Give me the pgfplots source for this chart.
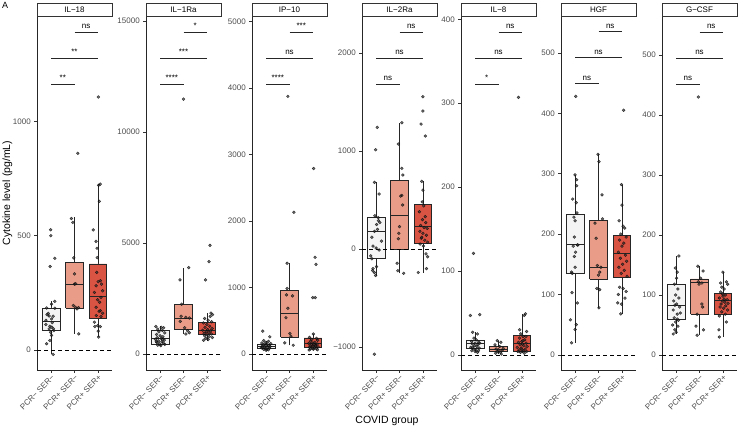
\documentclass[border=0pt]{standalone}
\usepackage{fontspec}
\setmainfont{Liberation Sans}
\usepackage{pgfplots}
\pgfplotsset{compat=1.18}

\definecolor{gA}{HTML}{F4F4F4}
\definecolor{gB}{HTML}{E99C87}
\definecolor{gC}{HTML}{DA5444}
\definecolor{ticktext}{HTML}{4D4D4D}

\newcommand{\smallfont}{\fontsize{8}{9}\selectfont}

\pgfplotsset{
  panel/.style={
    scale only axis, width=75pt, height=354pt, anchor=south west,
    xmin=0.4, xmax=3.6, enlargelimits=false, clip=false,
    scaled y ticks=false,
    axis x line*=bottom, axis y line*=left,
    axis line style={black!85, line width=0.5pt},
    tick align=outside, major tick length=2.75pt,
    tick style={black!80, line width=0.5pt},
    xtick={1,2,3},
    xticklabels={PCR− SER−, PCR+ SER−, PCR+ SER+},
    xticklabel style={rotate=45, anchor=north east, font=\smallfont, text=ticktext, inner sep=1pt},
    yticklabel style={font=\smallfont, text=ticktext},
  },
  pts/.style={only marks, mark=*, mark size=1.45pt,
    mark options={fill=black!80, draw=none, opacity=0.7}},
  zero/.style={black, line width=0.5pt, dash pattern=on 4pt off 3pt},
  bline/.style={black!85, line width=0.5pt},
}

% box: left, centre, right, lower whisker, q1, median, q3, upper whisker, fill
\newcommand{\bx}[9]{%
  \addplot[bline] coordinates {(#2,#4)(#2,#5)};
  \addplot[bline] coordinates {(#2,#7)(#2,#8)};
  \addplot[bline, fill=#9] coordinates {(#1,#5)(#3,#5)(#3,#7)(#1,#7)(#1,#5)};
  \addplot[black!85, line width=1pt] coordinates {(#1,#6)(#3,#6)};}
% bracket: from, to, middle, height, label
\newcommand{\sig}[5]{\draw[black!85, line width=0.5pt] (axis cs:#1,#4) -- (axis cs:#2,#4);
  \node[anchor=base, yshift=3.5pt, inner sep=0pt, font=\smallfont] at (axis cs:#3,#4) {#5};}
\newcommand{\strip}[1]{\draw[black!80, line width=0.6pt, fill=white] (rel axis cs:0,1) rectangle (rel axis cs:1,1.037);
  \node[font=\smallfont] at (rel axis cs:0.5,1.0185) {#1};}

\begin{document}
\begin{tikzpicture}
\useasboundingbox (0,0) rectangle (738pt,427pt);

% IL-18
\begin{axis}[panel, at={(37pt,57pt)}, ymin=-87, ymax=1460,
  ytick={0,500,1000}, yticklabels={0,500,1000}]
\bx{0.625}{1}{1.375}{-19}{87}{126}{184}{213}{gA}
\bx{1.625}{2}{2.375}{71}{184}{288}{384}{583}{gB}
\bx{2.625}{3}{3.375}{57}{138}{235}{377}{725}{gC}
\addplot[zero] coordinates {(0.4,0) (3.6,0)};
\addplot[pts] coordinates {(0.98,526)(0.99,500)(1.16,401)(0.96,365)(1.16,213)(1.02,201)
  (0.81,184)(1.16,183)(0.83,155)(0.92,149)(1.09,148)(1.02,136)(0.78,130)(0.78,112)
  (0.95,104)(1.03,100)(0.92,93)(1.1,93)(0.98,78)(1.02,64)(0.81,28)(1.09,-19)(0.95,42)
  (1.05,120)(0.88,160)(1.12,85)};
\addplot[pts] coordinates {(1.87,575)(1.93,558)(1.97,403)(2.0,333)(2.0,288)(2.04,187)
  (2.17,186)(2.11,180)(2.18,71)(2.14,860)(2.05,290)(1.95,195)};
\addplot[pts] coordinates {(3.02,1106)(3.1,725)(3.03,720)(3.06,650)(2.8,525)(2.92,475)
  (2.96,445)(2.97,404)(3.1,303)(3.01,299)(3.15,288)(2.92,281)(3.2,259)(2.85,252)
  (3.13,230)(2.99,220)(3.07,209)(2.92,187)(3.1,172)(3.2,161)(2.93,151)(3.13,146)
  (2.85,122)(2.99,107)(3.1,103)(2.87,103)(3.01,83)(3.03,57)(2.95,340)(3.05,170)};
\sig{1}{2}{1.5}{1163}{**}
\sig{1}{3}{2}{1277}{**}
\sig{2}{3}{2.5}{1390}{ns}
\strip{IL−18}
\end{axis}

% IL-1Ra
\begin{axis}[panel, at={(146pt,57pt)}, ymin=-721, ymax=15225,
  ytick={0,5000,10000,15000}, yticklabels={0,5000,10000,15000}]
\bx{0.625}{1}{1.375}{380}{449}{718}{1078}{1240}{gA}
\bx{1.625}{2}{2.375}{900}{1093}{1617}{2245}{3892}{gB}
\bx{2.625}{3}{3.375}{600}{868}{1063}{1422}{1840}{gC}
\addplot[zero] coordinates {(0.4,0) (3.6,0)};
\addplot[pts] coordinates {(0.82,1240)(1.05,1200)(1.15,1180)(0.9,1120)(1.1,1060)(0.95,1000)
  (1.2,950)(0.85,880)(1.0,820)(1.12,780)(0.88,740)(1.05,700)(0.8,660)(1.18,620)(0.93,590)
  (1.08,550)(0.86,520)(1.14,490)(0.97,460)(1.2,430)(0.9,400)(1.03,380)(1.1,640)(0.84,560)};
\addplot[pts] coordinates {(2.0,11480)(2.22,3890)(1.85,3340)(1.92,2245)(2.1,1650)(2.25,1620)
  (1.9,1700)(1.86,1470)(2.17,1050)(2.25,960)(2.1,900)(2.05,1180)};
\addplot[pts] coordinates {(3.13,4890)(3.09,4160)(2.94,3340)(3.17,1840)(3.24,1770)(2.9,1600)
  (3.05,1520)(3.2,1450)(2.85,1400)(3.0,1330)(3.12,1250)(2.92,1200)(3.22,1150)(3.03,1100)
  (2.82,1070)(3.15,1040)(2.97,1000)(3.08,960)(2.88,930)(3.19,900)(3.0,860)(2.9,820)
  (3.1,780)(3.23,740)(2.95,700)(3.05,650)(2.86,620)(3.14,1690)};
\sig{1}{2}{1.5}{12162}{****}
\sig{1}{3}{2}{13333}{***}
\sig{2}{3}{2.5}{14505}{*}
\strip{IL−1Ra}
\end{axis}

% IP-10
\begin{axis}[panel, at={(252pt,57pt)}, ymin=-241, ymax=5083,
  ytick={0,1000,2000,3000,4000,5000}, yticklabels={0,1000,2000,3000,4000,5000}]
\bx{0.625}{1}{1.375}{56}{81}{116}{151}{200}{gA}
\bx{1.625}{2}{2.375}{131}{252}{611}{960}{1364}{gB}
\bx{2.625}{3}{3.375}{60}{106}{157}{242}{300}{gC}
\addplot[zero] coordinates {(0.4,0) (3.6,0)};
\addplot[pts] coordinates {(0.86,343)(1.16,258)(0.9,200)(1.1,190)(1.0,175)(0.82,165)(1.2,155)
  (0.95,150)(1.05,145)(0.88,138)(1.12,130)(1.0,125)(0.84,118)(1.17,112)(0.93,105)(1.08,98)
  (0.8,92)(1.14,86)(0.97,80)(1.03,74)(0.9,68)(1.1,62)(1.0,56)(0.86,100)};
\addplot[pts] coordinates {(1.93,3874)(2.19,2131)(1.9,1364)(1.9,985)(1.87,889)(2.13,874)
  (1.93,687)(1.85,545)(2.02,308)(2.06,268)(1.8,167)(2.16,131)};
\addplot[pts] coordinates {(3.03,2789)(3.09,1454)(3.13,1348)(2.99,848)(3.1,848)(3.02,300)
  (2.85,250)(3.15,235)(2.95,220)(3.2,205)(2.9,190)(3.08,175)(3.0,165)(2.82,158)(3.18,150)
  (2.93,142)(3.05,135)(3.12,128)(2.88,120)(3.0,112)(3.22,106)(2.86,100)(3.06,94)(2.97,88)
  (3.14,82)(2.9,76)(3.02,70)(3.19,64)(2.84,60)(3.1,120)};
\sig{1}{2}{1.5}{4060}{****}
\sig{1}{3}{2}{4451}{ns}
\sig{2}{3}{2.5}{4842}{***}
\strip{IP−10}
\end{axis}

% IL-2Ra
\begin{axis}[panel, at={(362pt,57pt)}, ymin=-1235, ymax=2378,
  ytick={-1000,0,1000,2000}, yticklabels={−1000,0,1000,2000}]
\bx{0.625}{1}{1.375}{-280}{-95}{180}{320}{680}{gA}
\bx{1.625}{2}{2.375}{-248}{0}{337}{700}{1289}{gB}
\bx{2.625}{3}{3.375}{-240}{54}{228}{456}{690}{gC}
\addplot[zero] coordinates {(0.4,0) (3.6,0)};
\addplot[pts] coordinates {(1.05,1241)(0.98,1013)(0.93,680)(1.13,561)(0.95,340)(1.09,320)
  (1.16,270)(1.02,250)(0.93,180)(0.82,120)(1.23,80)(1.13,-10)(0.77,-70)(0.82,-100)
  (1.02,-180)(0.87,-200)(0.93,-240)(0.98,-270)(0.93,-1074)(1.0,10)(1.06,200)(0.87,30)
  (1.1,290)(0.85,-220)};
\addplot[pts] coordinates {(2.1,1289)(1.95,1071)(2.1,823)(2.14,755)(2.1,547)(2.13,449)
  (2.0,228)(1.97,160)(1.95,105)(1.9,-146)(1.93,-221)(2.18,-248)(2.05,540)};
\addplot[pts] coordinates {(3.0,1554)(3.0,1408)(2.92,1275)(3.1,1153)(2.95,690)(3.0,600)
  (2.97,480)(3.03,440)(2.85,380)(2.98,300)(3.12,270)(2.9,240)(3.05,220)(3.18,210)
  (2.87,180)(3.0,160)(3.15,140)(2.93,110)(3.08,90)(3.2,70)(2.88,50)(3.02,30)(3.13,-50)
  (3.2,-80)(3.15,-200)(2.8,-240)(2.95,120)(3.1,330)};
\sig{1}{2}{1.5}{1684}{ns}
\sig{1}{3}{2}{1949}{ns}
\sig{2}{3}{2.5}{2214}{ns}
\strip{IL−2Ra}
\end{axis}

% IL-8
\begin{axis}[panel, at={(461pt,57pt)}, ymin=-18, ymax=404,
  ytick={0,100,200,300,400}, yticklabels={0,100,200,300,400}]
\bx{0.625}{1}{1.375}{3}{8}{14}{18}{27}{gA}
\bx{1.625}{2}{2.375}{1}{4}{6}{10}{17}{gB}
\bx{2.625}{3}{3.375}{2}{4}{14}{23}{49}{gC}
\addplot[zero] coordinates {(0.4,0) (3.6,0)};
\addplot[pts] coordinates {(0.93,121)(0.8,47)(1.2,48)(0.9,27)(1.1,25)(0.95,20)(1.05,18)
  (0.85,16)(1.15,15)(1.0,14)(0.88,13)(1.12,12)(0.97,11)(1.08,10)(0.82,9)(1.18,8)(0.92,7)
  (1.03,6)(1.14,5)(0.86,5)(1.0,4)(1.1,3)(0.9,9)(1.2,14)};
\addplot[pts] coordinates {(1.95,17)(2.1,15)(1.85,12)(2.05,10)(2.2,8)(1.9,7)(2.0,6)(2.15,5)
  (1.95,4)(2.08,3)(1.88,2)(2.12,1)};
\addplot[pts] coordinates {(2.85,307)(3.15,49)(3.1,47)(3.2,28)(2.95,25)(3.05,22)(2.9,20)
  (3.12,18)(3.0,16)(2.85,15)(3.18,14)(3.02,13)(2.92,12)(3.08,11)(3.22,10)(2.8,9)(2.97,8)
  (3.14,7)(2.88,6)(3.05,5)(3.2,4)(2.94,3)(3.1,2)(2.83,4)(3.0,6)(2.9,30)(3.17,22)(3.04,17)};
\sig{1}{2}{1.5}{323}{*}
\sig{1}{3}{2}{354}{ns}
\sig{2}{3}{2.5}{385}{ns}
\strip{IL−8}
\end{axis}

% HGF
\begin{axis}[panel, at={(561pt,57pt)}, ymin=-25, ymax=561,
  ytick={0,100,200,300,400,500}, yticklabels={0,100,200,300,400,500}]
\bx{0.625}{1}{1.375}{20}{135}{182}{232}{298}{gA}
\bx{1.625}{2}{2.375}{78}{125}{145}{223}{332}{gB}
\bx{2.625}{3}{3.375}{68}{129}{168}{198}{282}{gC}
\addplot[zero] coordinates {(0.4,0) (3.6,0)};
\addplot[pts] coordinates {(1.03,428)(1.0,298)(1.07,290)(1.07,280)(0.9,258)(1.05,252)
  (1.08,235)(0.95,228)(1.0,222)(0.97,195)(1.1,182)(0.92,180)(1.02,170)(0.97,163)(1.0,145)
  (0.85,137)(0.88,135)(0.87,103)(1.1,86)(0.8,58)(1.05,50)(1.0,42)(0.85,20)(1.12,182)};
\addplot[pts] coordinates {(1.98,332)(2.02,320)(2.15,265)(2.17,225)(1.85,218)(1.9,193)
  (1.95,148)(2.1,145)(2.05,137)(2.0,132)(1.93,110)(2.05,108)(2.02,78)};
\addplot[pts] coordinates {(3.07,405)(2.98,282)(3.0,248)(2.88,222)(3.05,213)(3.12,210)
  (2.95,200)(3.18,195)(2.9,190)(3.08,185)(3.0,180)(2.85,170)(3.15,165)(2.93,160)(3.2,155)
  (3.03,150)(2.87,145)(3.1,140)(2.97,135)(3.22,130)(2.9,112)(3.05,110)(2.85,100)(3.13,94)
  (2.82,86)(2.98,84)(2.95,68)(3.18,105)};
\sig{1}{2}{1.5}{449}{ns}
\sig{1}{3}{2}{492}{ns}
\sig{2}{3}{2.5}{535}{ns}
\strip{HGF}
\end{axis}

% G-CSF
\begin{axis}[panel, at={(662pt,57pt)}, ymin=-25, ymax=565,
  ytick={0,100,200,300,400,500}, yticklabels={0,100,200,300,400,500}]
\bx{0.625}{1}{1.375}{35}{59}{83}{118}{165}{gA}
\bx{1.625}{2}{2.375}{33}{68}{121}{127}{148}{gB}
\bx{2.625}{3}{3.375}{30}{68}{90}{103}{138}{gC}
\addplot[zero] coordinates {(0.4,0) (3.6,0)};
\addplot[pts] coordinates {(1.12,165)(0.97,145)(1.05,138)(1.02,128)(0.93,118)(1.08,110)
  (0.98,100)(1.12,95)(0.9,90)(1.02,85)(0.95,83)(1.15,80)(0.88,75)(1.05,68)(0.92,62)
  (1.1,58)(0.98,55)(0.85,50)(1.08,48)(0.95,42)(1.0,38)(0.88,35)(1.18,70)(1.05,60)};
\addplot[pts] coordinates {(1.95,430)(1.93,148)(2.15,140)(2.05,128)(1.95,122)(2.1,120)
  (1.98,118)(2.1,85)(2.13,80)(1.9,68)(1.85,48)(2.17,42)(1.9,33)};
\addplot[pts] coordinates {(3.0,138)(3.15,122)(3.2,118)(2.95,113)(3.05,110)(2.9,105)
  (3.1,100)(3.0,98)(2.85,95)(3.18,92)(2.97,90)(3.08,88)(2.92,85)(3.12,82)(2.88,80)
  (3.03,78)(3.2,75)(2.95,72)(3.1,68)(2.85,65)(3.15,55)(2.83,42)(2.85,30)(3.05,93)
  (2.98,102)(3.22,86)(2.9,120)};
\sig{1}{2}{1.5}{452}{ns}
\sig{1}{3}{2}{495}{ns}
\sig{2}{3}{2.5}{538}{ns}
\strip{G−CSF}
\end{axis}

\node[anchor=north west, font=\fontsize{9}{10}\selectfont, inner sep=0pt] at (2pt,425pt) {A};
\node[rotate=90, font=\fontsize{10.5}{12}\selectfont] at (7.5pt,234pt) {Cytokine level (pg/mL)};
\node[font=\fontsize{10.5}{12}\selectfont] at (387pt,6pt) {COVID group};
\end{tikzpicture}
\end{document}
